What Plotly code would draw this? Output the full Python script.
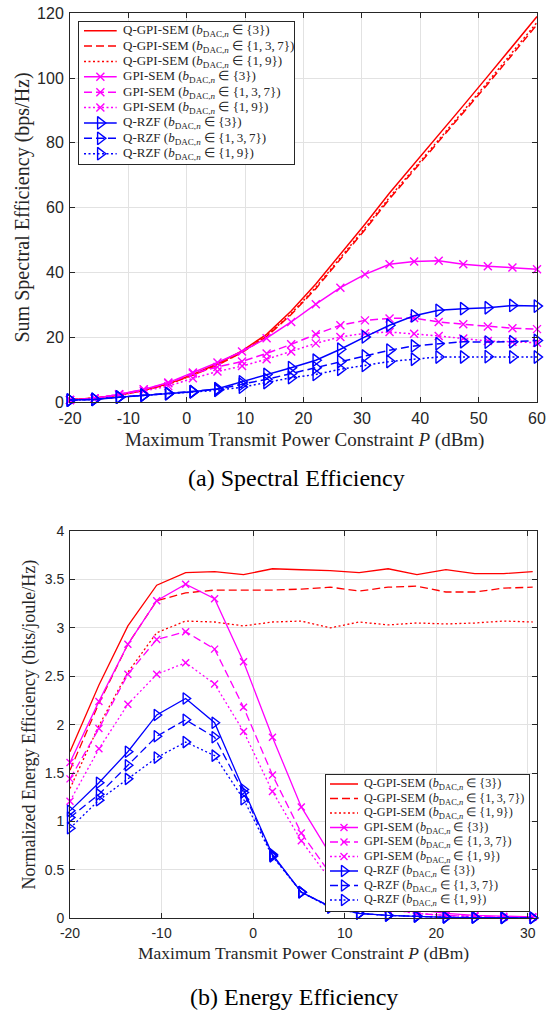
import plotly.graph_objects as go

# ---------------- data ----------------
x_se = [-20, -15.79, -11.58, -7.37, -3.16, 1.05, 5.26, 9.47, 13.68, 17.89,
        22.11, 26.32, 30.53, 34.74, 38.95, 43.16, 47.37, 51.58, 55.79, 60]

se_qgpi_3 = [0.7, 1.2, 2.1, 3.6, 5.6, 8.5, 11.8, 15.8, 20.9, 28.1,
             36.4, 45.6, 54.9, 64.5, 73.4, 82.6, 91.5, 100.6, 109.8, 119.0]
se_qgpi_137 = [0.7, 1.2, 2.1, 3.6, 5.5, 8.3, 11.4, 15.3, 20.2, 27.0,
               35.0, 44.0, 53.2, 62.7, 71.5, 80.4, 89.2, 98.2, 107.3, 116.5]
se_qgpi_19 = [0.7, 1.2, 2.1, 3.6, 5.5, 8.3, 11.5, 15.4, 20.4, 27.3,
              35.4, 44.5, 53.7, 63.2, 72.0, 81.0, 89.8, 98.8, 107.9, 117.2]
se_gpi_3 = [0.6, 1.1, 2.4, 3.9, 6.0, 9.1, 12.2, 15.6, 19.7, 24.7,
            30.2, 35.3, 39.4, 42.5, 43.4, 43.6, 42.5, 41.9, 41.5, 41.0]
se_gpi_137 = [0.6, 1.1, 2.4, 3.9, 5.8, 8.8, 10.8, 12.5, 15.0, 17.8,
              20.9, 23.7, 25.2, 25.8, 25.9, 24.7, 24.0, 23.3, 22.8, 22.5]
se_gpi_19 = [0.6, 1.1, 2.2, 3.4, 4.9, 7.3, 9.4, 11.1, 13.2, 15.6,
             18.1, 20.1, 21.2, 21.6, 21.1, 20.4, 19.6, 18.8, 18.6, 18.3]
se_rzf_3 = [0.6, 0.8, 1.5, 2.1, 2.6, 3.2, 4.1, 6.2, 8.5, 10.6,
            12.9, 16.3, 20.1, 23.7, 26.6, 28.3, 28.8, 29.1, 29.8, 29.6]
se_rzf_137 = [0.6, 0.8, 1.5, 2.1, 2.6, 3.2, 3.9, 5.5, 7.0, 8.8,
              10.6, 12.5, 14.2, 16.0, 17.3, 18.0, 18.6, 18.5, 18.6, 19.0]
se_rzf_19 = [0.6, 0.8, 1.5, 2.1, 2.6, 3.1, 3.6, 4.6, 6.0, 7.5,
             8.5, 10.1, 11.3, 12.5, 13.2, 13.9, 13.9, 14.0, 13.9, 13.9]

x_ee = [-20, -16.84, -13.68, -10.53, -7.37, -4.21, -1.05, 2.11, 5.26, 8.42,
        11.58, 14.74, 17.89, 21.05, 24.21, 27.37, 30.53]

ee_qgpi_3 = [1.72, 2.41, 3.02, 3.44, 3.57, 3.58, 3.55, 3.61, 3.60, 3.59,
             3.57, 3.61, 3.55, 3.60, 3.56, 3.56, 3.58]
ee_qgpi_137 = [1.53, 2.22, 2.83, 3.28, 3.36, 3.39, 3.39, 3.39, 3.40, 3.42,
               3.38, 3.42, 3.43, 3.37, 3.37, 3.41, 3.42]
ee_qgpi_19 = [1.34, 1.99, 2.54, 2.95, 3.07, 3.06, 3.02, 3.06, 3.07, 3.00,
              3.06, 3.03, 3.05, 3.04, 3.05, 3.07, 3.06]
ee_gpi_3 = [1.61, 2.24, 2.83, 3.28, 3.45, 3.30, 2.65, 1.87, 1.15, 0.66,
            0.32, 0.16, 0.09, 0.05, 0.03, 0.02, 0.015]
ee_gpi_137 = [1.44, 1.96, 2.52, 2.88, 2.96, 2.78, 2.18, 1.48, 0.88, 0.46,
              0.21, 0.10, 0.05, 0.03, 0.02, 0.01, 0.01]
ee_gpi_19 = [1.21, 1.75, 2.21, 2.52, 2.64, 2.42, 1.93, 1.31, 0.80, 0.40,
             0.18, 0.09, 0.05, 0.03, 0.02, 0.01, 0.01]
ee_rzf_3 = [1.11, 1.40, 1.72, 2.10, 2.27, 2.02, 1.33, 0.66, 0.27, 0.12,
            0.05, 0.03, 0.02, 0.01, 0.008, 0.005, 0.004]
ee_rzf_137 = [1.04, 1.28, 1.58, 1.88, 2.05, 1.87, 1.30, 0.65, 0.27, 0.12,
              0.05, 0.03, 0.02, 0.01, 0.008, 0.005, 0.004]
ee_rzf_19 = [0.93, 1.22, 1.44, 1.66, 1.82, 1.68, 1.23, 0.64, 0.27, 0.11,
             0.05, 0.03, 0.02, 0.01, 0.008, 0.005, 0.004]

algorithms = ["Q-GPI-SEM", "GPI-SEM", "Q-RZF"]
bit_sets = ["{3}", "{1,\u20093,\u20097}", "{1,\u20099}"]

x_ticks_se = [-20, -10, 0, 10, 20, 30, 40, 50, 60]
x_labels_se = ["-20", "-10", "0", "10", "20", "30", "40", "50", "60"]
y_ticks_se = [0, 20, 40, 60, 80, 100, 120]
y_labels_se = ["0", "20", "40", "60", "80", "100", "120"]
x_ticks_ee = [-20, -10, 0, 10, 20, 30]
x_labels_ee = ["-20", "-10", "0", "10", "20", "30"]
y_ticks_ee = [0, 0.5, 1, 1.5, 2, 2.5, 3, 3.5, 4]
y_labels_ee = ["0", "0.5", "1", "1.5", "2", "2.5", "3", "3.5", "4"]

se_series = [[se_qgpi_3, se_qgpi_137, se_qgpi_19],
             [se_gpi_3, se_gpi_137, se_gpi_19],
             [se_rzf_3, se_rzf_137, se_rzf_19]]
ee_series = [[ee_qgpi_3, ee_qgpi_137, ee_qgpi_19],
             [ee_gpi_3, ee_gpi_137, ee_gpi_19],
             [ee_rzf_3, ee_rzf_137, ee_rzf_19]]

# ---------------- styles ----------------
W, H = 548, 1010
colors = ["#ff0000", "#ff00ff", "#0000ff"]
dashes = ["solid", "8px,4px", "2px,2.5px"]
symbols = [None, "x-thin", "triangle-right-open"]
SERIF = "Liberation Serif, Times New Roman, serif"
SANS = "Liberation Sans, Arial, Helvetica, sans-serif"
AX = "#262626"
GRID = "#e2e2e2"


def fx(p):
    return p / W


def fy(p):
    return 1 - p / H


fig = go.Figure()


def add_panel(xv, series, xa, ya, lw, msize):
    for a in range(3):
        for s in range(3):
            sym = symbols[a]
            tr = dict(x=xv, y=series[a][s], xaxis=xa, yaxis=ya,
                      line=dict(color=colors[a], width=lw, dash=dashes[s]),
                      showlegend=False, cliponaxis=False,
                      name=f"{algorithms[a]} {bit_sets[s]}")
            if sym is None:
                tr["mode"] = "lines"
            else:
                tr["mode"] = "lines+markers"
                tr["marker"] = dict(symbol=sym, size=msize[a], color=colors[a],
                                    line=dict(color=colors[a], width=1.4))
            fig.add_trace(go.Scatter(**tr))


add_panel(x_se, se_series, "x", "y", 1.5, {1: 8, 2: 11})
add_panel(x_ee, ee_series, "x2", "y2", 1.3, {1: 7, 2: 10})


def add_legend(xa, ya, row0, step, lx0, lx1, tx, fsize, lw, msize):
    xm = (lx0 + lx1) / 2
    i = 0
    for a in range(3):
        for s in range(3):
            yr = row0 + step * i
            fig.add_trace(go.Scatter(
                x=[lx0, lx1], y=[yr, yr], mode="lines", xaxis=xa, yaxis=ya,
                line=dict(color=colors[a], width=lw, dash=dashes[s]),
                showlegend=False, hoverinfo="skip", cliponaxis=False))
            if symbols[a] is not None:
                fig.add_trace(go.Scatter(
                    x=[xm], y=[yr], mode="markers", xaxis=xa, yaxis=ya,
                    marker=dict(symbol=symbols[a], size=msize[a], color=colors[a],
                                line=dict(color=colors[a], width=1.4)),
                    showlegend=False, hoverinfo="skip", cliponaxis=False))
            fig.add_annotation(
                x=tx, y=yr, xref=xa, yref=ya, xanchor="left", yanchor="middle",
                showarrow=False,
                text=f"{algorithms[a]} (<i>b</i><sub>DAC,<i>n</i></sub> \u2208 {bit_sets[s]})",
                font=dict(family=SERIF, size=fsize, color=AX))
            i += 1


add_legend("x3", "y3", 9.0, 15.375, 4.7, 37.4, 41.5, 13.0, 1.5, {1: 8, 2: 11})
add_legend("x4", "y4", 9.0, 14.5, 4.3, 32.3, 36.0, 12.2, 1.3, {1: 7, 2: 10})


def main_axis(domain, rng, tv, tt, anchor, fsize):
    return dict(domain=domain, range=rng, tickvals=tv, ticktext=tt, anchor=anchor,
                showgrid=True, gridcolor=GRID, gridwidth=1, zeroline=False,
                showline=True, linecolor=AX, linewidth=1, mirror="ticks",
                ticks="inside", ticklen=5, tickcolor=AX, tickwidth=1,
                tickfont=dict(family=SANS, size=fsize, color=AX),
                ticklabelstandoff=2, fixedrange=True, automargin=False)


def legend_axis(domain, rng, anchor):
    return dict(domain=domain, range=rng, anchor=anchor, showgrid=False,
                zeroline=False, showticklabels=False, ticks="", showline=True,
                mirror=True, linecolor=AX, linewidth=1, fixedrange=True,
                automargin=False)


fig.update_layout(
    template="none",
    width=W, height=H, margin=dict(l=0, r=0, t=0, b=0, autoexpand=False),
    paper_bgcolor="white", plot_bgcolor="white", showlegend=False,
    xaxis=main_axis([fx(70), fx(537)], [-20, 60], x_ticks_se, x_labels_se, "y", 16),
    yaxis=main_axis([fy(402), fy(13.3)], [0, 120], y_ticks_se, y_labels_se, "x", 16),
    xaxis2=main_axis([fx(70), fx(537)], [-20, 31], x_ticks_ee, x_labels_ee, "y2", 14),
    yaxis2=main_axis([fy(918.3), fy(531)], [0, 4], y_ticks_ee, y_labels_ee, "x2", 14),
    xaxis3=legend_axis([fx(79.3), fx(294)], [0, 214.7], "y3"),
    yaxis3=legend_axis([fy(164), fy(21.7)], [142.3, 0], "x3"),
    xaxis4=legend_axis([fx(325.7), fx(529)], [0, 203.3], "y4"),
    yaxis4=legend_axis([fy(911), fy(775)], [136.0, 0], "x4"),
)


def label(x, y, text, size, angle=0, color=AX):
    fig.add_annotation(x=fx(x), y=fy(y), xref="paper", yref="paper", showarrow=False,
                       xanchor="center", yanchor="middle", textangle=angle, text=text,
                       font=dict(family=SERIF, size=size, color=color))


# axis titles and captions
label(304, 440, "Maximum Transmit Power Constraint <i>P</i> (dBm)", 19)
label(22, 207.5, "Sum Spectral Efficiency (bps/Hz)", 20, -90)
label(296, 478, "(a) Spectral Efficiency", 24, 0, "black")
label(303.5, 953, "Maximum Transmit Power Constraint <i>P</i> (dBm)", 17.5)
label(29, 724.5, "Normalized Energy Efficiency (bits/joule/Hz)", 18, -90)
label(294, 997, "(b) Energy Efficiency", 24, 0, "black")

fig.write_html("out.html", config={"displayModeBar": False},
               post_script="document.body.style.margin='0px';")
